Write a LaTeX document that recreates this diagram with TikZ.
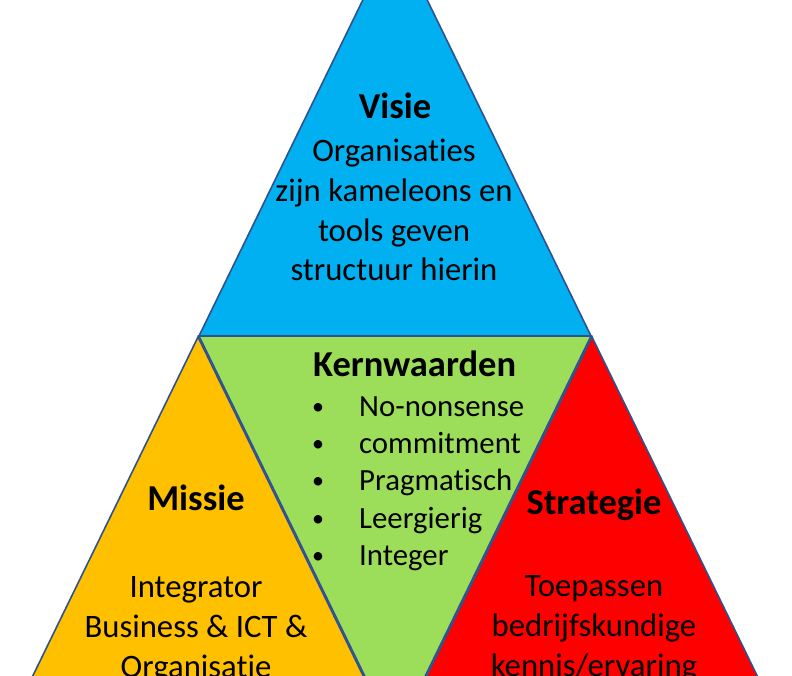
\documentclass[tikz,border=0pt]{standalone}
\usepackage{fontspec}
\setmainfont[Ligatures={NoCommon}]{Carlito}
\definecolor{visieblue}{HTML}{00B0F0}
\definecolor{kerngreen}{HTML}{9CDD5A}
\definecolor{missieorange}{HTML}{FFC000}
\definecolor{stratred}{HTML}{FF0000}
\definecolor{edgeblue}{HTML}{2F528F}
\tikzset{
  tri/.style={draw=edgeblue, line width=1.6pt, line join=miter},
  ttl/.style={anchor=base, inner sep=0pt, font=\bfseries\fontsize{36.5}{44}\selectfont},
  txt/.style={anchor=base, inner sep=0pt, font=\fontsize{32.7}{40}\selectfont},
  lst/.style={anchor=base west, inner sep=0pt, font=\fontsize{30.8}{37.5}\selectfont},
  bul/.style={anchor=base, inner sep=0pt, font=\fontsize{24}{30}\selectfont}
}
\begin{document}
\begin{tikzpicture}[x=1pt,y=-1pt]
\useasboundingbox (0,0) rectangle (792,675);
\clip (0,0) rectangle (792,675);
\fill[white] (0,0) rectangle (792,675);
% triangles
\filldraw[tri, fill=visieblue] (395,-66) -- (199,336) -- (591,336) -- cycle;
\filldraw[tri, fill=kerngreen] (199,336) -- (591,336) -- (395,738) -- cycle;
\filldraw[tri, fill=missieorange] (198,337) -- (393,737) -- (3,737) -- cycle;
\filldraw[tri, fill=stratred] (592,337) -- (787,737) -- (397,737) -- cycle;
% Visie
\node[ttl] (visie) at (395,118) {Visie};
\node[txt] (v1) at (394,161) {Organisaties};
\node[txt] (v2) at (394,201) {zijn kameleons en};
\node[txt] (v3) at (394,241) {tools geven};
\node[txt] (v4) at (394,280) {structuur hierin};
% Kernwaarden
\node[ttl, anchor=base west] (kern) at (313,376) {Kernwaarden};
\node[bul] (b1) at (318,414) {•};
\node[lst] (k1) at (359,416) {No-nonsense};
\node[bul] (b2) at (318,451) {•};
\node[lst] (k2) at (359,453) {commitment};
\node[bul] (b3) at (318,488) {•};
\node[lst] (k3) at (359,490) {Pragmatisch};
\node[bul] (b4) at (318,526) {•};
\node[lst] (k4) at (359,528) {Leergierig};
\node[bul] (b5) at (318,563) {•};
\node[lst] (k5) at (359,565) {Integer};
% Missie
\node[ttl] (missie) at (196,510) {Missie};
\node[txt] (m1) at (196,597) {Integrator};
\node[txt] (m2) at (196,637) {Business \& ICT \&};
\node[txt] (m3) at (196,677) {Organisatie};
% Strategie
\node[ttl] (strat) at (594,514) {Strategie};
\node[txt] (s1) at (594,596) {Toepassen};
\node[txt] (s2) at (594,636) {bedrijfskundige};
\node[txt] (s3) at (594,676) {kennis/ervaring};
\end{tikzpicture}
\end{document}
